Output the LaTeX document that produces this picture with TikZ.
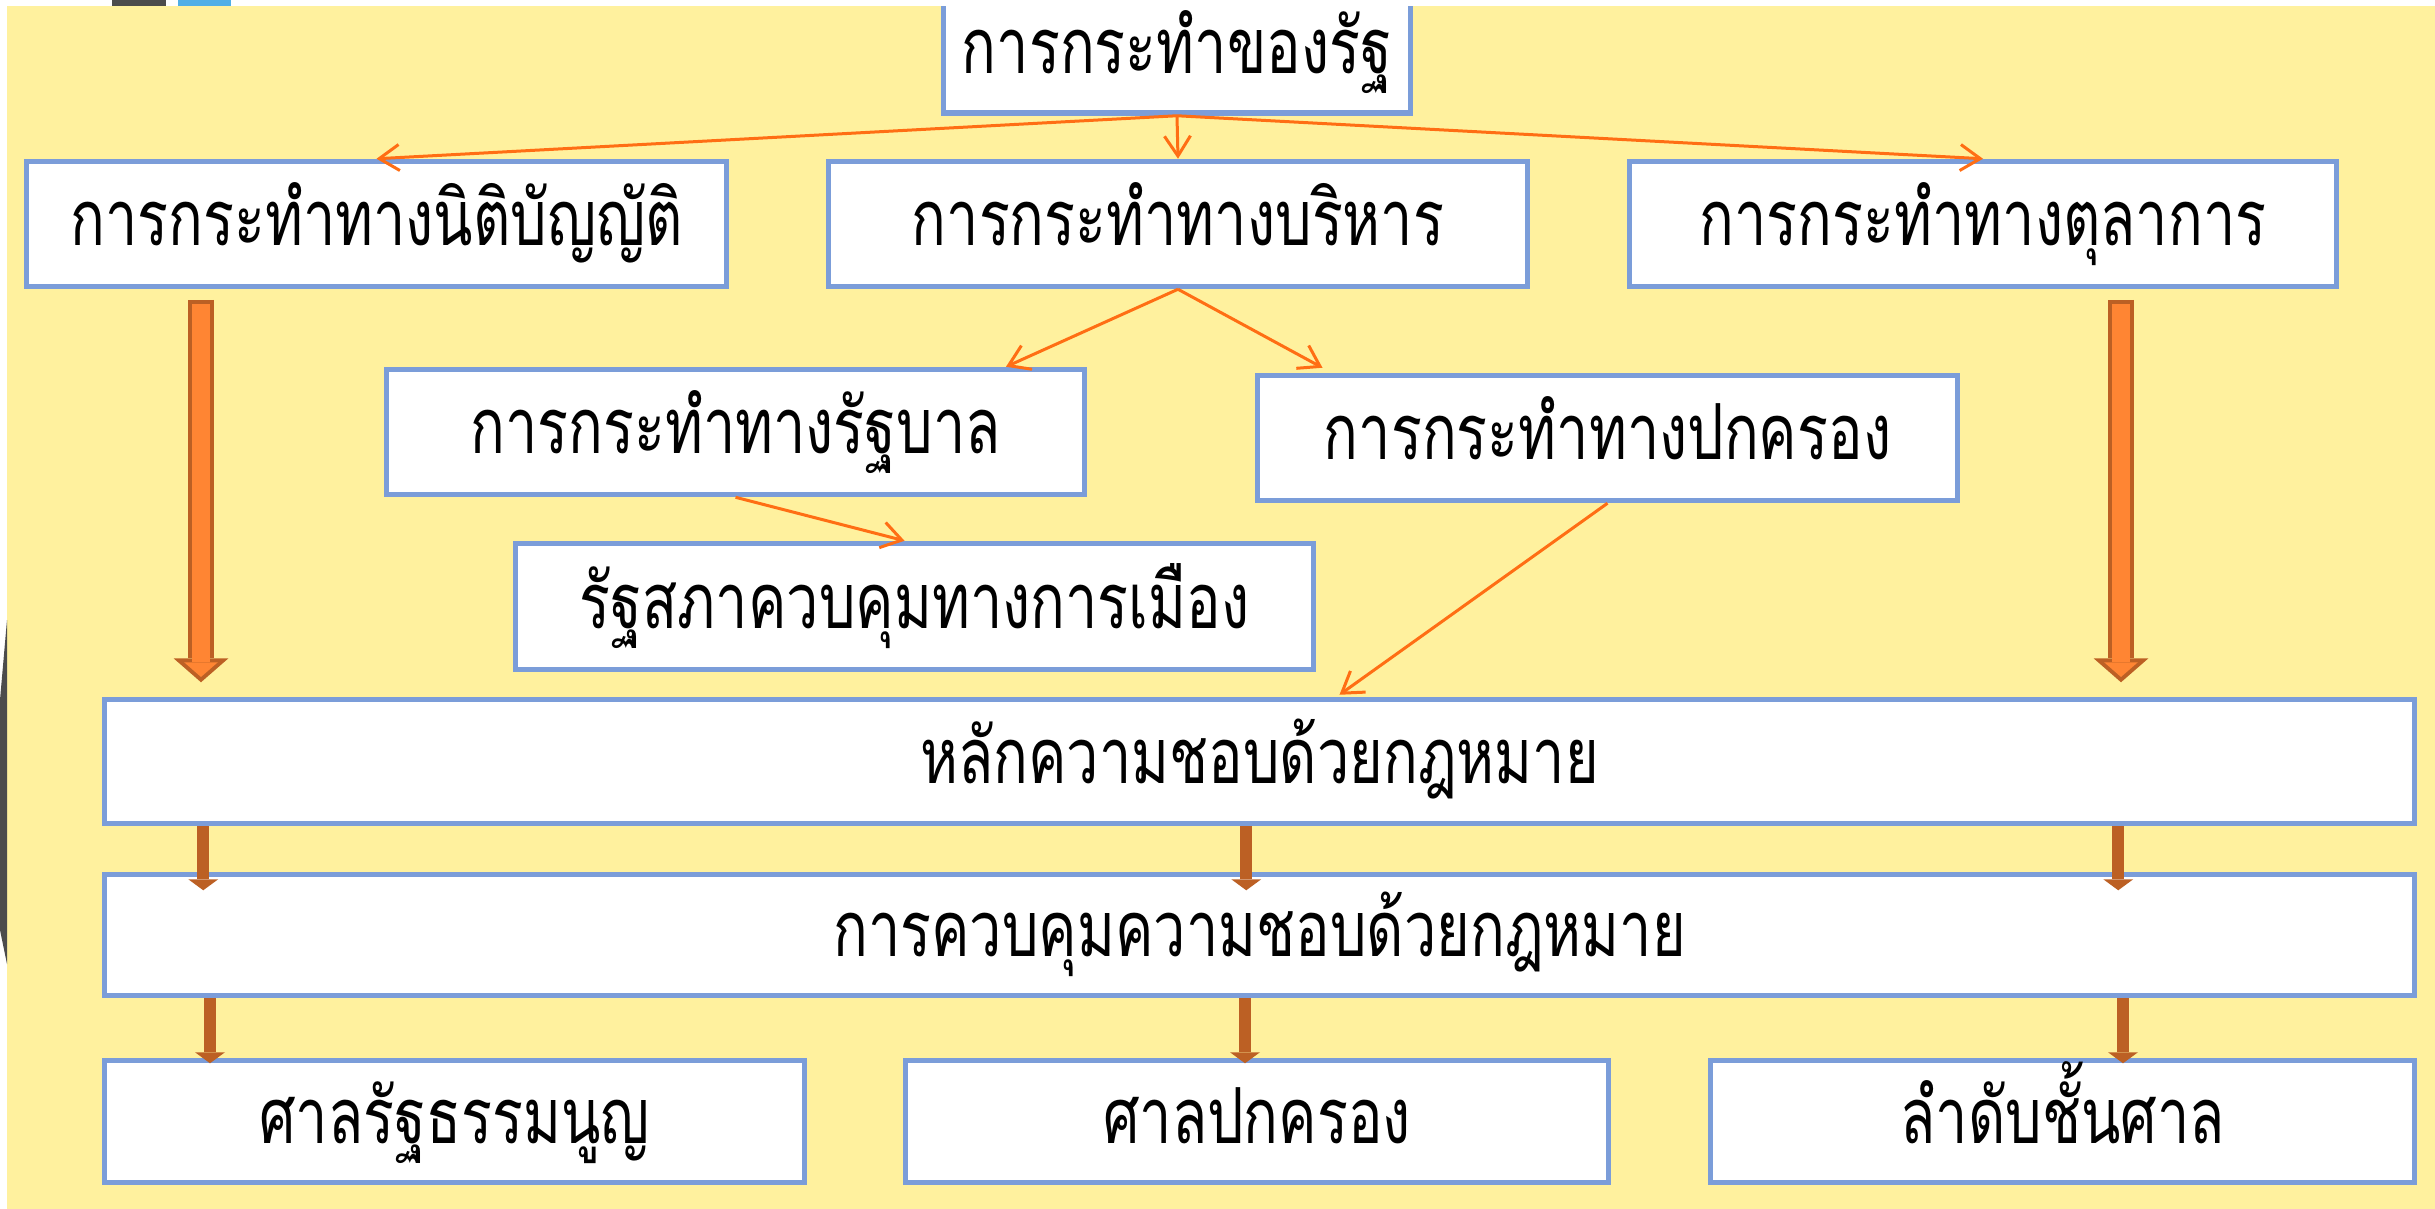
\documentclass[tikz,border=0pt]{standalone}
\usepackage{fontspec}
\newfontfamily\thaifont[Script=Thai,FakeStretch=0.745]{Loma}
\usetikzlibrary{arrows.meta}
\definecolor{bgyellow}{RGB}{255,241,158}
\definecolor{boxblue}{RGB}{123,157,217}
\definecolor{lineorange}{RGB}{255,110,20}
\definecolor{fatorange}{RGB}{255,133,51}
\definecolor{darkorange}{RGB}{188,96,36}
\tikzset{
  box/.style={draw=boxblue, line width=0.055cm, fill=white, minimum height=1.25cm,
    inner sep=0pt, text height=0.53cm, text depth=0.1cm,
    font=\thaifont\fontsize{22}{26}\selectfont},
  orangeline/.style={draw=lineorange, line width=0.03cm,
    -{Straight Barb[length=0.2cm,width=0.26cm]}},
  dropline/.style={draw=darkorange, line width=0.12cm,
    -{Triangle[length=0.11cm,width=0.30cm,line width=0pt]}},
  widearrow/.style={draw=darkorange, line width=0.26cm,
    -{Triangle[length=0.24cm,width=0.55cm,line width=0pt]},
    postaction={draw=fatorange, line width=0.18cm, shorten <=0.04cm, shorten >=0.053cm,
      -{Triangle[length=0.147cm,width=0.337cm,line width=0pt]}}}
}
\begin{document}
\begin{tikzpicture}
  \useasboundingbox (0,0) rectangle (24.35,-12.09);
  \fill[bgyellow] (0.07,-0.06) rectangle (24.35,-12.09);
  \fill[black!70] (0,-7.0) -- (0.07,-6.2) -- (0.07,-9.64) -- (0,-9.3) -- cycle;

  \node[box, minimum width=4.67cm, minimum height=1.22cm] (state) at (11.77,-0.52) {การกระทำของรัฐ};
  \node[box, minimum width=7.00cm] (leg) at (3.765,-2.24) {การกระทำทางนิติบัญญัติ};
  \node[box, minimum width=6.99cm] (exe) at (11.78,-2.24) {การกระทำทางบริหาร};
  \node[box, minimum width=7.07cm] (jud) at (19.83,-2.24) {การกระทำทางตุลาการ};
  \node[box, minimum width=6.98cm] (gov) at (7.355,-4.32) {การกระทำทางรัฐบาล};
  \node[box, minimum width=7.00cm] (adm) at (16.075,-4.38) {การกระทำทางปกครอง};
  \node[box, minimum width=7.98cm, minimum height=1.26cm] (parl) at (9.145,-6.065) {รัฐสภาควบคุมทางการเมือง};
  \node[box, minimum width=23.10cm, minimum height=1.24cm] (legal) at (12.595,-7.615) {หลักความชอบด้วยกฎหมาย};
  \node[box, minimum width=23.10cm, minimum height=1.21cm] (ctrl) at (12.595,-9.35) {การควบคุมความชอบด้วยกฎหมาย};
  \node[box, minimum width=7.00cm, minimum height=1.22cm] (court1) at (4.545,-11.215) {ศาลรัฐธรรมนูญ};
  \node[box, minimum width=7.03cm, minimum height=1.22cm] (court2) at (12.57,-11.215) {ศาลปกครอง};
  \node[box, minimum width=7.04cm, minimum height=1.22cm] (court3) at (20.625,-11.215) {ลำดับชั้นศาล};

  % state to the three powers
  \draw[orangeline] (state.south) -- (leg.north);
  \draw[orangeline] (state.south) -- (exe.north);
  \draw[orangeline] (state.south) -- (jud.north);
  \draw[orangeline] (exe.south) -- ([xshift=2.705cm]gov.north);
  \draw[orangeline] (exe.south) -- ([xshift=-2.85cm,yshift=0.05cm]adm.north);
  \draw[orangeline] (gov.south) -- ([xshift=-0.1cm]parl.north);
  \draw[orangeline] (adm.south) -- ([xshift=0.8cm,yshift=0.02cm]legal.north);

  % wide arrows
  \coordinate (wl) at ([xshift=-1.755cm,yshift=-0.105cm]leg.south);
  \coordinate (wr) at ([xshift=1.38cm,yshift=-0.105cm]jud.south);
  \draw[widearrow] (wl) -- ([yshift=0.145cm]wl |- legal.north);
  \draw[widearrow] (wr) -- ([yshift=0.145cm]wr |- legal.north);

  % legality to control
  \coordinate (l1) at ([xshift=1.015cm,yshift=-0.185cm]ctrl.north west);
  \coordinate (l2) at ([xshift=11.445cm,yshift=-0.185cm]ctrl.north west);
  \coordinate (l3) at ([xshift=20.165cm,yshift=-0.185cm]ctrl.north west);
  \draw[dropline] (legal.south -| l1) -- (l1);
  \draw[dropline] (legal.south -| l2) -- (l2);
  \draw[dropline] (legal.south -| l3) -- (l3);

  % control to courts
  \coordinate (c1) at ([xshift=-2.445cm,yshift=-0.055cm]court1.north);
  \coordinate (c2) at ([xshift=-0.12cm,yshift=-0.055cm]court2.north);
  \coordinate (c3) at ([xshift=0.605cm,yshift=-0.055cm]court3.north);
  \draw[dropline] (ctrl.south -| c1) -- (c1);
  \draw[dropline] (ctrl.south -| c2) -- (c2);
  \draw[dropline] (ctrl.south -| c3) -- (c3);

  \fill[white] (0,0) rectangle (24.35,-0.06);
  \fill[black!70] (1.12,0) rectangle (1.66,-0.06);
  \fill[cyan!80!blue!70] (1.78,0) rectangle (2.31,-0.06);
\end{tikzpicture}
\end{document}
